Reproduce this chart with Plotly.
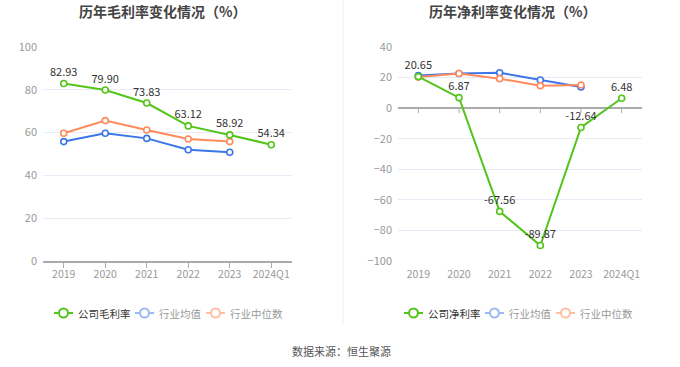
import plotly.graph_objects as go

years = ["2019", "2020", "2021", "2022", "2023", "2024Q1"]
ind_years = ["2019", "2020", "2021", "2022", "2023"]

gross_company = [82.93, 79.90, 73.83, 63.12, 58.92, 54.34]
gross_ind_avg = [55.8, 59.7, 57.3, 52.0, 50.8]
gross_ind_med = [59.7, 65.6, 61.2, 57.0, 55.8]

net_company = [20.65, 6.87, -67.56, -89.87, -12.64, 6.48]
net_ind_avg = [21.4, 22.7, 23.2, 18.4, 13.8]
net_ind_med = [20.3, 22.7, 19.3, 14.7, 15.1]

left_title = "历年毛利率变化情况（%）"
right_title = "历年净利率变化情况（%）"
left_legend = ["公司毛利率", "行业均值", "行业中位数"]
right_legend = ["公司净利率", "行业均值", "行业中位数"]
source_text = "数据来源：恒生聚源"

W, H = 680, 367
FONT = "Noto Sans CJK SC, Microsoft YaHei, sans-serif"
GREEN = "#52c41a"
BLUE = "#3a76e8"
ORANGE = "#ff8a5b"
GRID = "#e8ebf5"


def px_x(p):
    return p / W


def px_y(p):
    return 1 - p / H


fig = go.Figure()


def add_series(xa, ya, x, y, color, labels):
    fig.add_trace(go.Scatter(
        x=x, y=y, xaxis=xa, yaxis=ya,
        mode="lines+markers+text" if labels else "lines+markers",
        line=dict(color=color, width=2),
        marker=dict(symbol="circle", size=6, color="white",
                    line=dict(color=color, width=1.6)),
        text=[f"{v:.2f}" for v in y] if labels else None,
        textposition="top center",
        textfont=dict(size=11, color="#333333", family=FONT),
        showlegend=False, hoverinfo="skip", cliponaxis=False,
    ))


add_series("x", "y", ind_years, gross_ind_med, ORANGE, False)
add_series("x", "y", ind_years, gross_ind_avg, BLUE, False)
add_series("x", "y", years, gross_company, GREEN, True)

add_series("x2", "y2", ind_years, net_ind_avg, BLUE, False)
add_series("x2", "y2", ind_years, net_ind_med, ORANGE, False)
add_series("x2", "y2", years, net_company, GREEN, True)

ydom = [px_y(261), px_y(47)]
axis_common = dict(
    type="category", categoryorder="array", categoryarray=years,
    range=[-0.5, 5.5], showgrid=False,
    tickfont=dict(size=10.5, color="#999999", family=FONT),
    fixedrange=True, ticklabelstandoff=-2,
)
ytick = dict(size=11, color="#999999", family=FONT)
fig.update_layout(
    width=W, height=H, autosize=False,
    margin=dict(l=0, r=0, t=0, b=0, autoexpand=False),
    paper_bgcolor="white", plot_bgcolor="white",
    font=dict(family=FONT),
    xaxis=dict(domain=[px_x(43), px_x(292)], anchor="y",
               showline=True, linecolor="#aaaaaa", linewidth=1.5,
               ticks="outside", ticklen=5, tickcolor="#aaaaaa", **axis_common),
    yaxis=dict(domain=ydom, anchor="x", range=[0, 100], dtick=20,
               showgrid=True, gridcolor=GRID, zeroline=False,
               tickfont=ytick, ticks="", ticklabelstandoff=5),
    xaxis2=dict(domain=[px_x(398), px_x(642)], anchor="y2",
                showline=False, ticks="outside", ticklen=5, tickcolor="rgba(0,0,0,0)",
                **axis_common),
    yaxis2=dict(domain=ydom, anchor="x2", range=[-100, 40], dtick=20,
                showgrid=True, gridcolor=GRID, zeroline=True,
                zerolinecolor="#aaaaaa", zerolinewidth=1.5,
                tickfont=ytick, ticks="", ticklabelstandoff=5),
)

shapes = []
# tick marks under the zero line on the right chart
for i in range(len(years)):
    shapes.append(dict(type="line", xref="x2", yref="y2", x0=i, x1=i,
                       ysizemode="pixel", yanchor=0, y0=0, y1=-5,
                       line=dict(color="#aaaaaa", width=1)))
# separator
shapes.append(dict(type="line", xref="paper", yref="paper",
                   x0=px_x(343), x1=px_x(343), y0=px_y(0), y1=px_y(325),
                   line=dict(color="#f0f0f0", width=1)))

annotations = [
    dict(text=f"<b>{left_title}</b>", x=px_x(162), y=px_y(11), xref="paper", yref="paper",
         xanchor="center", yanchor="middle",
         showarrow=False, font=dict(size=14, color="#444444", family=FONT)),
    dict(text=f"<b>{right_title}</b>", x=px_x(512), y=px_y(11), xref="paper", yref="paper",
         xanchor="center", yanchor="middle",
         showarrow=False, font=dict(size=14, color="#444444", family=FONT)),
    dict(text=source_text, x=px_x(341), y=px_y(351), xref="paper", yref="paper",
         xanchor="center", yanchor="middle",
         showarrow=False, font=dict(size=11, color="#555555", family=FONT)),
]


def legend_item(x_icon, label, line_color, text_color, y=313):
    shapes.append(dict(type="line", xref="paper", yref="paper",
                       x0=px_x(x_icon), x1=px_x(x_icon + 19), y0=px_y(y), y1=px_y(y),
                       line=dict(color=line_color, width=2)))
    shapes.append(dict(type="circle", xref="paper", yref="paper",
                       x0=px_x(x_icon + 5), x1=px_x(x_icon + 14),
                       y0=px_y(y - 4.5), y1=px_y(y + 4.5),
                       fillcolor="white", line=dict(color=line_color, width=2)))
    annotations.append(dict(text=label, x=px_x(x_icon + 22), y=px_y(y),
                            xref="paper", yref="paper", xanchor="left", yanchor="middle",
                            showarrow=False,
                            font=dict(size=10.5, color=text_color, family=FONT)))


legend_item(54, left_legend[0], GREEN, "#333333")
legend_item(135, left_legend[1], "#9db9f3", "#999999")
legend_item(206, left_legend[2], "#ffbfa5", "#999999")
legend_item(404, right_legend[0], GREEN, "#333333")
legend_item(485, right_legend[1], "#9db9f3", "#999999")
legend_item(556, right_legend[2], "#ffbfa5", "#999999")

fig.update_layout(shapes=shapes, annotations=annotations)
fig.write_html("out.html", config={"responsive": False, "displayModeBar": False},
               post_script="document.body.style.margin='0';document.body.style.overflow='hidden';")
